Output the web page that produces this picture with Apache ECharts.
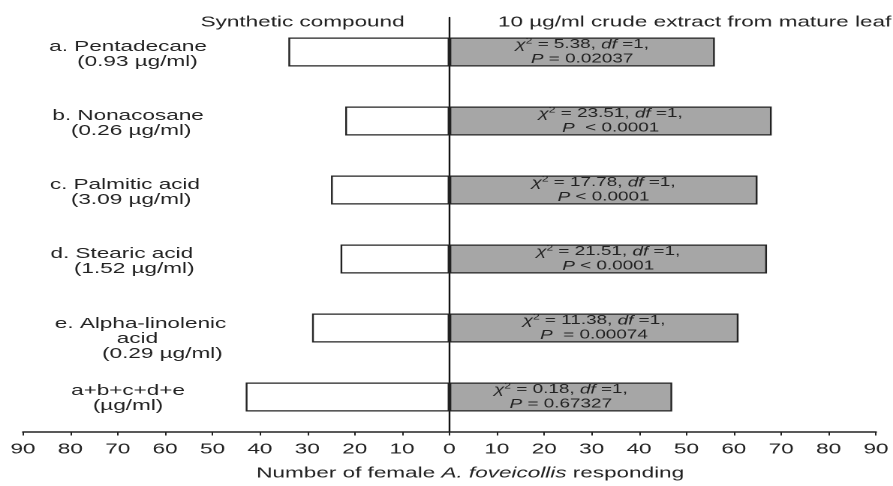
<!DOCTYPE html>
<html>
<head>
<meta charset="utf-8">
<script src="https://cdn.jsdelivr.net/npm/echarts@6/dist/echarts.min.js"></script>
<style>
html,body{margin:0;padding:0;background:#fff;overflow:hidden;}
#c{width:595px;height:486px;transform:scaleX(1.50084);transform-origin:0 0;}
</style>
</head>
<body>
<div id="c"></div>
<script>
// ---- data ----
const categories = [
  "a. Pentadecane\n   (0.93 µg/ml)",
  "b. Nonacosane\n (0.26 µg/ml)",
  "c. Palmitic acid \n (3.09 µg/ml)",
  "d. Stearic acid  \n  (1.52 µg/ml)",
  "    e. Alpha-linolenic\n   acid\n           (0.29 µg/ml)",
  "a+b+c+d+e\n(µg/ml)"
];
const syntheticCounts = [34, 22, 25, 23, 29, 43];
const extractCounts = [56, 68, 65, 67, 61, 47];
const chiSquare = ["5.38", "23.51", "17.78", "21.51", "11.38", "0.18"];
const pText = [" = 0.02037", "  < 0.0001", " < 0.0001", " < 0.0001", "  = 0.00074", " = 0.67327"];
const leftHeader = "Synthetic compound";
const rightHeader = "10 µg/ml crude extract from mature leaf";

// ---- chart ----
const FONT = "'Liberation Sans', Arial, sans-serif";
const TXT = '#222';
const FS = 15;
const chart = echarts.init(document.getElementById('c'), null, {devicePixelRatio: 2});

chart.setOption({
  animation: false,
  grid: {left: 15.3, right: 7.5, top: 17.5, bottom: 48.5, containLabel: false},
  graphic: [
    {type: 'text', x: 201.6, y: 22.5, style: {text: leftHeader, fontSize: FS, fontFamily: FONT, fill: TXT, align: 'center', verticalAlign: 'middle'}},
    {type: 'text', x: 331.8, y: 22.5, style: {text: rightHeader, fontSize: FS, fontFamily: FONT, fill: TXT, align: 'left', verticalAlign: 'middle'}}
  ],
  xAxis: {
    type: 'value', min: -90, max: 90, interval: 10,
    splitLine: {show: false},
    axisLine: {show: true, lineStyle: {color: '#222', width: 1.5}},
    axisTick: {show: true, length: 4, lineStyle: {color: '#222', width: 1}},
    axisLabel: {formatter: v => String(Math.abs(v)), fontSize: FS, fontFamily: FONT, color: TXT, margin: 10.5},
    name: '{n|Number of female }{i|A. foveicollis}{n| responding}',
    nameLocation: 'middle', nameGap: 34.5,
    nameTextStyle: {
      padding: [0, 0, 0, 27.6],
      rich: {
        n: {fontSize: FS, fontFamily: FONT, color: TXT},
        i: {fontSize: FS, fontFamily: FONT, color: TXT, fontStyle: 'italic'}
      }
    }
  },
  yAxis: [
    {
      type: 'category', inverse: true, data: categories,
      axisLine: {show: true, onZero: true, lineStyle: {color: '#111', width: 1.2}},
      axisTick: {show: false}, axisLabel: {show: false}, splitLine: {show: false}
    },
    {
      type: 'category', inverse: true, data: categories, position: 'left',
      axisLine: {show: false, onZero: false}, axisTick: {show: false}, splitLine: {show: false},
      axisLabel: {
        inside: true, margin: 70, align: 'center', fontSize: FS, lineHeight: 15, fontFamily: FONT, color: TXT,
        formatter: (v, i) => (i === 4 ? '{ge| }\n' : (i === 5 ? '{gf| }\n' : '{g| }\n')) + v,
        rich: {g: {lineHeight: 5, fontSize: 4}, ge: {lineHeight: 22, fontSize: 4}, gf: {lineHeight: 3, fontSize: 3}}
      }
    }
  ],
  series: [
    {
      type: 'bar', yAxisIndex: 0, barWidth: 29, barGap: '-100%',
      data: syntheticCounts.map(v => -v),
      itemStyle: {color: '#fff', borderColor: '#222', borderWidth: 1.2}
    },
    {
      type: 'bar', yAxisIndex: 0, barWidth: 29, barGap: '-100%',
      data: extractCounts,
      itemStyle: {color: '#a6a6a6', borderColor: '#222', borderWidth: 1.2},
      label: {
        show: true, position: 'inside',
        formatter: p => '{i|χ}{s|2}{n| = ' + chiSquare[p.dataIndex] + ', }{i|df}{n| =1,}\n{i|P}{n|' + pText[p.dataIndex] + '}',
        rich: {
          n: {fontSize: 12.6, fontFamily: FONT, color: TXT, lineHeight: 14.5},
          i: {fontSize: 12.6, fontFamily: FONT, color: TXT, lineHeight: 14.5, fontStyle: 'italic'},
          s: {fontSize: 8, fontFamily: FONT, color: TXT, lineHeight: 8, verticalAlign: 'top'}
        }
      }
    }
  ]
});
</script>
</body>
</html>
